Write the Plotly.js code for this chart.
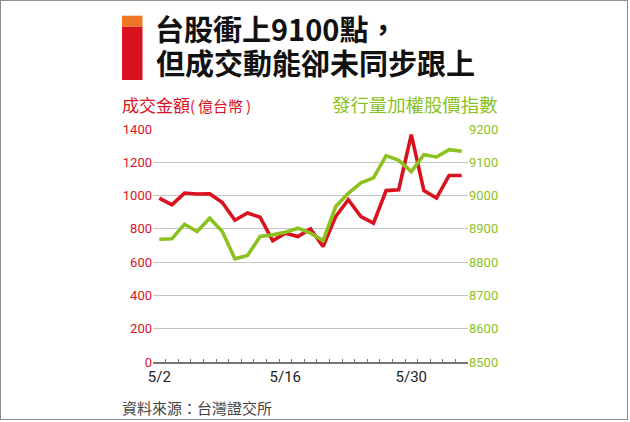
<!DOCTYPE html>
<html>
<head>
<meta charset="utf-8">
<script src="https://cdn.plot.ly/plotly-3.0.1.min.js"></script>
<style>
  html, body { margin:0; padding:0; background:#fff; }
  #wrap { position:relative; width:630px; height:422px; }
  #chart { width:630px; height:422px; }
  #frame { position:absolute; left:0; top:0; width:628px; height:420px; border:1px solid #8c8c8c; box-sizing:border-box; pointer-events:none; }
</style>
</head>
<body>
<div id="wrap"><div id="chart"></div><div id="frame"></div></div>
<script>
// Trading days (May-June 2014)
const dates = ['5/2','5/5','5/6','5/7','5/8','5/9','5/12','5/13','5/14','5/15','5/16',
               '5/19','5/20','5/21','5/22','5/23','5/26','5/27','5/28','5/29','5/30',
               '6/3','6/4','6/5','6/6'];
// 成交金額 (億台幣)
const turnover = [985,944,1015,1009,1011,958,852,895,870,728,774,
                  754,800,694,874,975,874,834,1030,1035,1366,
                  1030,985,1121,1121];
// 發行量加權股價指數
const taiex = [8869,8870,8914,8892,8932,8892,8810,8820,8877,8882,8890,
               8902,8887,8865,8967,9007,9038,9053,9120,9106,9072,
               9123,9116,9138,9133];
const labeledDates = ['5/2','5/16','5/30'];
const leftTicks = [0,200,400,600,800,1000,1200,1400];
const rightTicks = [8500,8600,8700,8800,8900,9000,9100,9200];

const RED = '#d9121f';
const GREEN = '#8cc21f';
const W = 630, H = 422;
const M = {l:153, r:162, t:129, b:60};
const pw = W - M.l - M.r, ph = H - M.t - M.b;
const px = x => (x - M.l) / pw;
const py = y => (H - M.b - y) / ph;

const traces = [
  {x: dates, y: taiex, yaxis: 'y2', type: 'scatter', mode: 'lines',
   line: {color: GREEN, width: 3.6}, hoverinfo: 'skip', name: '發行量加權股價指數'},
  {x: dates, y: turnover, yaxis: 'y', type: 'scatter', mode: 'lines',
   line: {color: RED, width: 3.6}, hoverinfo: 'skip', name: '成交金額'}
];

const tickFont = 'Roboto, "Liberation Sans", Arial, sans-serif';
const cjk = '"Noto Sans CJK TC", "Noto Sans CJK SC", sans-serif';

const layout = {
  width: W, height: H,
  margin: M,
  paper_bgcolor: '#ffffff', plot_bgcolor: '#ffffff',
  showlegend: false,
  title: {
    text: '<b>台股衝上9100點，</b>',
    font: {family: cjk, size: 29, color: '#111'},
    xref: 'container', yref: 'container',
    x: 155/W, xanchor: 'left', y: 1 - 31/H, yanchor: 'middle', pad: {t:0,b:0,l:0,r:0}
  },
  xaxis: {
    type: 'category', range: [-0.5, dates.length - 0.5],
    tickmode: 'array', tickvals: dates,
    ticktext: dates.map(d => labeledDates.includes(d) ? d : ''),
    tickangle: 0,
    tickson: 'boundaries', ticks: 'inside', ticklen: 3, tickwidth: 1, tickcolor: '#777',
    showline: true, linecolor: '#777', linewidth: 1.5,
    showgrid: false, zeroline: false,
    tickfont: {family: tickFont, size: 15, color: '#222'},
    fixedrange: true
  },
  yaxis: {
    range: [0, 1400], tickmode: 'array', tickvals: leftTicks,
    showgrid: true, gridcolor: '#c4c4c4', gridwidth: 1,
    zeroline: false, showline: false, ticks: '',
    tickfont: {family: tickFont, size: 13, color: RED},
    fixedrange: true
  },
  yaxis2: {
    range: [8500, 9200], tickmode: 'array', tickvals: rightTicks,
    overlaying: 'y', side: 'right',
    showgrid: false, zeroline: false, showline: false, ticks: '',
    tickfont: {family: tickFont, size: 13, color: GREEN},
    fixedrange: true
  },
  shapes: [
    {type: 'rect', xref: 'paper', yref: 'paper', x0: px(122), x1: px(142.5), y0: py(26.7), y1: py(15.7),
     fillcolor: '#ee7625', line: {width: 0}},
    {type: 'rect', xref: 'paper', yref: 'paper', x0: px(122), x1: px(142.5), y0: py(80), y1: py(26.7),
     fillcolor: '#d9121f', line: {width: 0}}
  ],
  annotations: [
    {text: '<b>但成交動能卻未同步跟上</b>', xref: 'paper', yref: 'paper', x: px(155), y: py(62),
     xanchor: 'left', yanchor: 'middle', showarrow: false, borderpad: 0,
     font: {family: cjk, size: 29, color: '#111'}},
    {text: '成交金額<span style="font-size:15px">(\u2009億台幣\u2009)</span>', xref: 'paper', yref: 'paper',
     x: px(121), y: py(104), xanchor: 'left', yanchor: 'middle', showarrow: false, borderpad: 0,
     font: {family: cjk, size: 17, color: RED}},
    {text: '發行量加權股價指數', xref: 'paper', yref: 'paper',
     x: px(499), y: py(104), xanchor: 'right', yanchor: 'middle', showarrow: false, borderpad: 0,
     font: {family: cjk, size: 18.4, color: GREEN}},
    {text: '資料來源：台灣證交所', xref: 'paper', yref: 'paper',
     x: px(121), y: py(407), xanchor: 'left', yanchor: 'middle', showarrow: false, borderpad: 0,
     font: {family: cjk, size: 15, color: '#444'}}
  ]
};

Plotly.newPlot('chart', traces, layout, {displayModeBar: false, staticPlot: true});
</script>
</body>
</html>
